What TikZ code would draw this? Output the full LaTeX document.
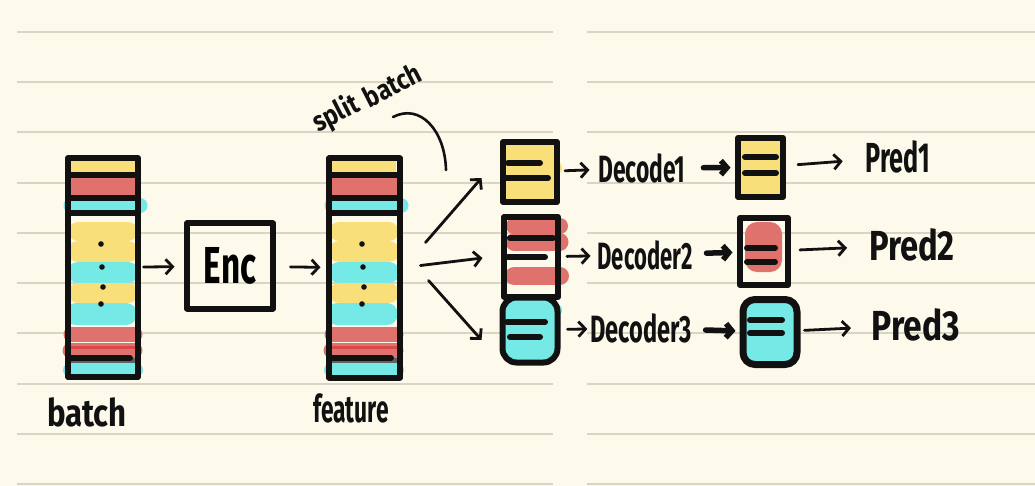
\documentclass[tikz,border=0pt]{standalone}
\usepackage{fontspec}
\setmainfont{Fira Sans}
\usetikzlibrary{arrows.meta}
\definecolor{paper}{HTML}{FDF9EB}
\definecolor{rulec}{HTML}{D9D5C5}
\definecolor{hy}{HTML}{F8DF79}
\definecolor{hr}{HTML}{E0726E}
\definecolor{hc}{HTML}{74E9E5}
\definecolor{hdr}{HTML}{D84A48}
\definecolor{hg}{HTML}{5E6362}
\definecolor{ink}{HTML}{111111}
\tikzset{
  inkline/.style={draw=ink, line width=6pt, line cap=round, line join=round},
  hl/.style={line cap=round},
  arr/.style={draw=ink, line width=2.8pt, line cap=round, line join=round, -{Straight Barb[length=7pt,width=15pt]}},
  barr/.style={draw=ink, line width=5.5pt, line cap=round, line join=round, -{Straight Barb[length=6pt,width=14pt]}},
  hand/.style={inner sep=0pt, outer sep=0pt, text=ink, font=\bfseries},
  sbox/.style={inkline, minimum width=#1, inner sep=0pt},
  dot/.style={fill=ink},
}
\newcommand{\colstack}[1]{%
  \begin{scope}[xshift=#1]
    \fill[hy] (3,158) rectangle (67,175);
    \fill[hr] (-1,175) rectangle (68,198);
    \draw[hc, hl, line width=15pt] (3,205.5) -- (72,205.5);
    \draw[hy, hl, line width=19pt] (10,231.5) -- (60,231.5);
    \draw[hy, hl, line width=21pt] (10,251.5) -- (60,251.5);
    \draw[hc, hl, line width=21pt] (10,272.5) -- (60,272.5);
    \draw[hy, hl, line width=20pt] (10,293) -- (60,293);
    \draw[hc, hl, line width=22pt] (8,314) -- (58,314);
    \draw[hr, hl, line width=15pt] (3,334.5) -- (67,334.5);
    \draw[hr, hl, line width=15pt] (2,350.5) -- (67,350.5);
    \draw[hdr, line width=3pt] (0,347) -- (68,347);
    \fill[hg] (2,358) rectangle (70,364);
    \draw[hc, hl, line width=14pt] (2,370) -- (68,370);
    \draw[inkline] (0,175) -- (70,175);
    \draw[inkline] (0,198) -- (70,198);
    \draw[inkline] (0,213) -- (70,213);
    \draw[inkline] (0,358) -- (62,358);
    \fill[dot] (33,244) circle (2.8);
    \fill[dot] (34,267) circle (2.8);
    \fill[dot] (35,287) circle (2.8);
    \fill[dot] (33,304) circle (2.8);
  \end{scope}}
\begin{document}
\begin{tikzpicture}[x=1pt, y=-1pt]
  % paper
  \fill[paper] (0,0) rectangle (1035,486);
  \useasboundingbox (0,0) rectangle (1035,486);
  \foreach \yy in {32,82,132,183,233,283,333,384,434,484}{
    \draw[rulec, line width=2pt] (17,\yy) -- (553,\yy);
    \draw[rulec, line width=2pt] (587,\yy) -- (1035,\yy);
  }
  % stacks
  \colstack{68}
  \node[sbox=70pt, minimum height=219pt] (batch) at (103,267.5) {};
  \colstack{329}
  \node[sbox=71pt, minimum height=219pt] (feat) at (364.5,268) {};
  \node[hand, font=\bfseries\fontsize{38}{38}\selectfont] (lbatch) at (87,412) {\scalebox{0.82}[1]{batch}};
  \node[hand, font=\bfseries\fontsize{38}{38}\selectfont] (lfeat) at (351,408) {\scalebox{0.6}[1]{feature}};
  % encoder
  \node[sbox=86pt, minimum height=85pt, font=\bfseries\fontsize{52}{52}\selectfont] (enc) at (230,266) {\scalebox{0.64}[1]{Enc}};
  \draw[arr, shorten <=2.5pt, shorten >=9.5pt] (batch) -- (enc);
  \draw[arr, shorten <=14.5pt, shorten >=5.5pt] (enc) -- (feat);
  % split batch
  \node[hand, rotate=27, font=\bfseries\fontsize{28}{28}\selectfont] (split1) at (336,114) {\scalebox{0.85}[1]{split}};
  \node[hand, rotate=27, font=\bfseries\fontsize{28}{28}\selectfont] (split2) at (392,85) {\scalebox{0.85}[1]{batch}};
  \coordinate (c0) at (393,117);
  \coordinate (c1) at (446,170);
  \draw[ink, line width=2.6pt, line cap=round] (c0) .. controls (420,103) and (445,130) .. (c1);
  % small boxes
  \draw[hy, hl, line width=14pt] (545,168) -- (555,168);
  \node[sbox=54pt, minimum height=60pt, fill=hy] (s1) at (530,172) {};
  \draw[inkline] (508,163) -- (540,163);
  \draw[inkline] (505,178) -- (548,178);
  \draw[hr, hl, line width=16pt] (514,226) -- (560,226);
  \draw[hr, hl, line width=17pt] (514,242) -- (560,242);
  \draw[hr, hl, line width=18pt] (514,276) -- (560,276);
  \node[sbox=54pt, minimum height=80pt] (s2) at (531,257) {};
  \draw[inkline] (510,238) -- (553,238);
  \draw[inkline] (508,257) -- (545,257);
  \draw[hc, hl, line width=12pt] (548,310) -- (556,310);
  \node[sbox=55pt, minimum height=65pt, fill=hc, rounded corners=14pt] (s3) at (530,330) {};
  \draw[inkline] (507,322) -- (545,322);
  \draw[inkline] (510,337) -- (540,337);
  % arrows from feature
  \draw[arr] ([xshift=22.5pt, yshift=25.5pt]feat.east) -- ([xshift=-18.5pt, yshift=-6pt]s1.west);
  \draw[arr] ([xshift=17.5pt, yshift=2.5pt]feat.east) -- ([xshift=-18.5pt, yshift=-1pt]s2.west);
  \draw[arr] ([xshift=25.5pt, yshift=-12.5pt]feat.east) -- ([xshift=-18pt, yshift=-10pt]s3.west);
  % decoders
  \node[hand, font=\bfseries\fontsize{38}{38}\selectfont] (d1) at (642,168) {\scalebox{0.6}[1]{Decode1}};
  \node[hand, font=\bfseries\fontsize{38}{38}\selectfont] (d2) at (645,255) {\scalebox{0.58}[1]{Decoder2}};
  \node[hand, font=\bfseries\fontsize{38}{38}\selectfont] (d3) at (641,328) {\scalebox{0.62}[1]{Decoder3}};
  \draw[arr, shorten <=5pt, shorten >=9pt] (s1) -- (d1);
  \draw[arr, shorten <=6pt, shorten >=7pt] (s2) -- (d2);
  \draw[arr, shorten <=7pt, shorten >=3pt] (s3) -- (d3);
  % output boxes
  \node[sbox=45pt, minimum height=59pt, fill=hy] (o1) at (760.5,167.5) {};
  \draw[inkline] (745,157) -- (776,157);
  \draw[inkline] (745,173) -- (776,173);
  \fill[hr, rounded corners=12pt] (745,222) rectangle (782,272);
  \node[sbox=48pt, minimum height=67pt] (o2) at (764,251.5) {};
  \draw[inkline] (747,248) -- (775,248);
  \draw[inkline] (747,262) -- (775,262);
  \node[sbox=54pt, minimum height=65pt, fill=hc, rounded corners=12pt, line width=7pt] (o3) at (770,332) {};
  \draw[inkline] (750,320) -- (782,320);
  \draw[inkline] (750,333) -- (782,333);
  \draw[barr, shorten <=18pt, shorten >=4.5pt] (d1) -- (o1);
  \draw[barr, shorten <=14pt, shorten >=4.5pt] (d2) -- (o2);
  \draw[barr, shorten <=14pt, shorten >=4pt] (d3) -- (o3);
  % predictions
  \node[hand, font=\bfseries\fontsize{42}{42}\selectfont] (p1) at (898,157) {\scalebox{0.6}[1]{Pred1}};
  \node[hand, font=\bfseries\fontsize{42}{42}\selectfont] (p2) at (912,245) {\scalebox{0.78}[1]{Pred2}};
  \node[hand, font=\bfseries\fontsize{42}{42}\selectfont] (p3) at (916,325) {\scalebox{0.8}[1]{Pred3}};
  \draw[arr, shorten <=12pt, shorten >=23pt] (o1) -- (p1);
  \draw[arr, shorten <=9pt, shorten >=22pt] (o2) -- (p2);
  \draw[arr, shorten <=4pt, shorten >=21pt] (o3) -- (p3);
\end{tikzpicture}
\end{document}
